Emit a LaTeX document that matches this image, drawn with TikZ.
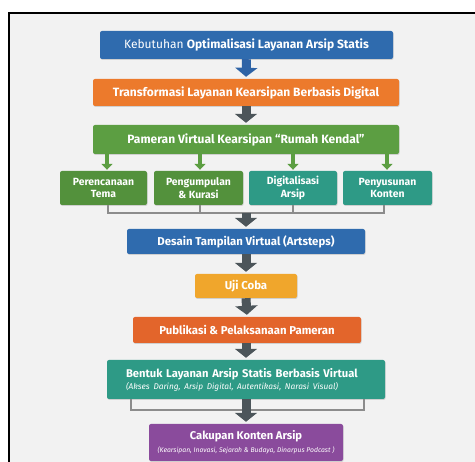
\documentclass[tikz,border=0pt]{standalone}
\usepackage{fontspec}
\setmainfont{Fira Sans}
\usetikzlibrary{arrows.meta,shadows,calc}
\definecolor{bgc}{HTML}{F2F2F2}
\definecolor{cblue}{HTML}{2F6BAE}
\definecolor{corange}{HTML}{EC7A2C}
\definecolor{cgreen}{HTML}{5C9E42}
\definecolor{cgreenb}{HTML}{53913C}
\definecolor{cteal}{HTML}{2E9A86}
\definecolor{cyellow}{HTML}{F0A62C}
\definecolor{cred}{HTML}{E3652B}
\definecolor{cpurple}{HTML}{8A4B9C}
\definecolor{carrow}{HTML}{4C555A}
\definecolor{cbarrow}{HTML}{2E63A6}
\definecolor{cline}{HTML}{8C8C8C}
\tikzset{
  box/.style={rounded corners=2pt, text=white, font=\bfseries, align=center,
    inner sep=0pt, drop shadow={shadow xshift=0.6pt, shadow yshift=-0.9pt, opacity=0.3}},
  bigarr/.style={-{Triangle[width=22pt,length=9pt]}, line width=9pt, draw=carrow, shorten >=2pt},
  smallarr/.style={-{Triangle[width=11pt,length=6pt]}, line width=4pt, draw=cgreen},
  brack/.style={draw=cline, line width=1.1pt},
}
\begin{document}
\begin{tikzpicture}[x=1pt,y=-1pt]
\useasboundingbox (0,0) rectangle (475,462);
\fill[white] (0,0) rectangle (475,462);
\fill[bgc] (9,13) rectangle (475,462);
\draw[line width=1.8pt] (9,462) -- (9,13) -- (475,13);

\node[box, fill=cblue, minimum width=293pt, minimum height=28pt, font=\fontsize{12}{14}\selectfont]
  (b1) at (246.5,45) {\mdseries Kebutuhan \bfseries Optimalisasi Layanan Arsip Statis};
\node[box, fill=corange, minimum width=306pt, minimum height=27pt, font=\bfseries\fontsize{12}{14}\selectfont]
  (b2) at (246,92.5) {Transformasi Layanan Kearsipan Berbasis Digital};
\node[box, fill=cgreen, minimum width=306pt, minimum height=29pt, font=\bfseries\fontsize{12}{14}\selectfont]
  (b3) at (246,139.5) {Pameran Virtual Kearsipan “Rumah Kendal”};

\node[box, fill=cgreenb, minimum width=87pt, minimum height=34pt, font=\bfseries\fontsize{10.4}{12.5}\selectfont]
  (sa) at (103.5,188) {Perencanaan\\Tema};
\node[box, fill=cgreenb, minimum width=89pt, minimum height=34pt, font=\bfseries\fontsize{10.4}{12.5}\selectfont]
  (sb) at (198.5,188) {Pengumpulan\\\& Kurasi};
\node[box, fill=cteal, minimum width=88pt, minimum height=34pt, font=\bfseries\fontsize{10.4}{12.5}\selectfont]
  (sc) at (293,188) {Digitalisasi\\Arsip};
\node[box, fill=cteal, minimum width=89pt, minimum height=34pt, font=\bfseries\fontsize{10.4}{12.5}\selectfont]
  (sd) at (387.5,188) {Penyusunan\\Konten};

\node[box, fill=cblue, minimum width=238pt, minimum height=25pt, font=\bfseries\fontsize{11.4}{13}\selectfont]
  (b4) at (246,241.5) {Desain Tampilan Virtual (Artsteps)};
\node[box, fill=cyellow, minimum width=102pt, minimum height=24pt, font=\bfseries\fontsize{11.4}{13}\selectfont]
  (b5) at (246,286) {Uji Coba};
\node[box, fill=cred, minimum width=228pt, minimum height=26pt, font=\bfseries\fontsize{11.4}{13}\selectfont]
  (b6) at (247,330) {Publikasi \& Pelaksanaan Pameran};
\node[box, fill=cteal, minimum height=39pt, inner xsep=19pt, text width=240pt, align=left, font=\bfseries\fontsize{11.2}{13}\selectfont]
  (b7) at (246,379.5) {Bentuk Layanan Arsip Statis Berbasis Virtual\\[-1pt]{\mdseries\itshape\fontsize{8.3}{10}\selectfont (Akses Daring, Arsip Digital, Autentikasi, Narasi Visual)}};
\node[box, fill=cpurple, minimum width=194pt, minimum height=37pt, font=\bfseries\fontsize{11.2}{13}\selectfont]
  (b8) at (246,442.5) {Cakupan Konten Arsip\\[0pt]{\mdseries\itshape\fontsize{6.8}{8}\selectfont (Kearsipan, Inovasi, Sejarah \& Budaya, Dinarpus Podcast )}};

% arrows top
\draw[bigarr, draw=cbarrow] (b1.south) -- (b2.north);
\draw[bigarr] (b2.south) -- (b3.north);

% small green arrows
\foreach \n/\xx in {sa/107, sb/200, sc/293, sd/387}{
  \draw[smallarr, shorten >=1pt] (\xx,154) -- (\n.north -| \xx,171);
}

% bracket under small boxes
\coordinate (ja) at (108,213);
\coordinate (jd) at (384,213);
\coordinate (jm) at (246,213);
\draw[brack] (sa.south -| ja) -- (ja) -- (jd) -- (sd.south -| jd);
\draw[brack] (sb.south -| 200,0) -- (200,213);
\draw[brack] (sc.south -| 293,0) -- (293,213);
\draw[bigarr] (jm) -- (b4.north);

\draw[bigarr] (b4.south) -- (b5.north);
\draw[bigarr] (b5.south) -- (b6.north);
\draw[bigarr] (b6.south -| b7.north) -- (b7.north);

% bracket under b7
\coordinate (ka) at (131,410);
\coordinate (kb) at (364,410);
\draw[brack] (b7.south -| ka) -- (ka) -- (kb) -- (b7.south -| kb);
\draw[bigarr] (b7.south) -- (b8.north);
\end{tikzpicture}
\end{document}
